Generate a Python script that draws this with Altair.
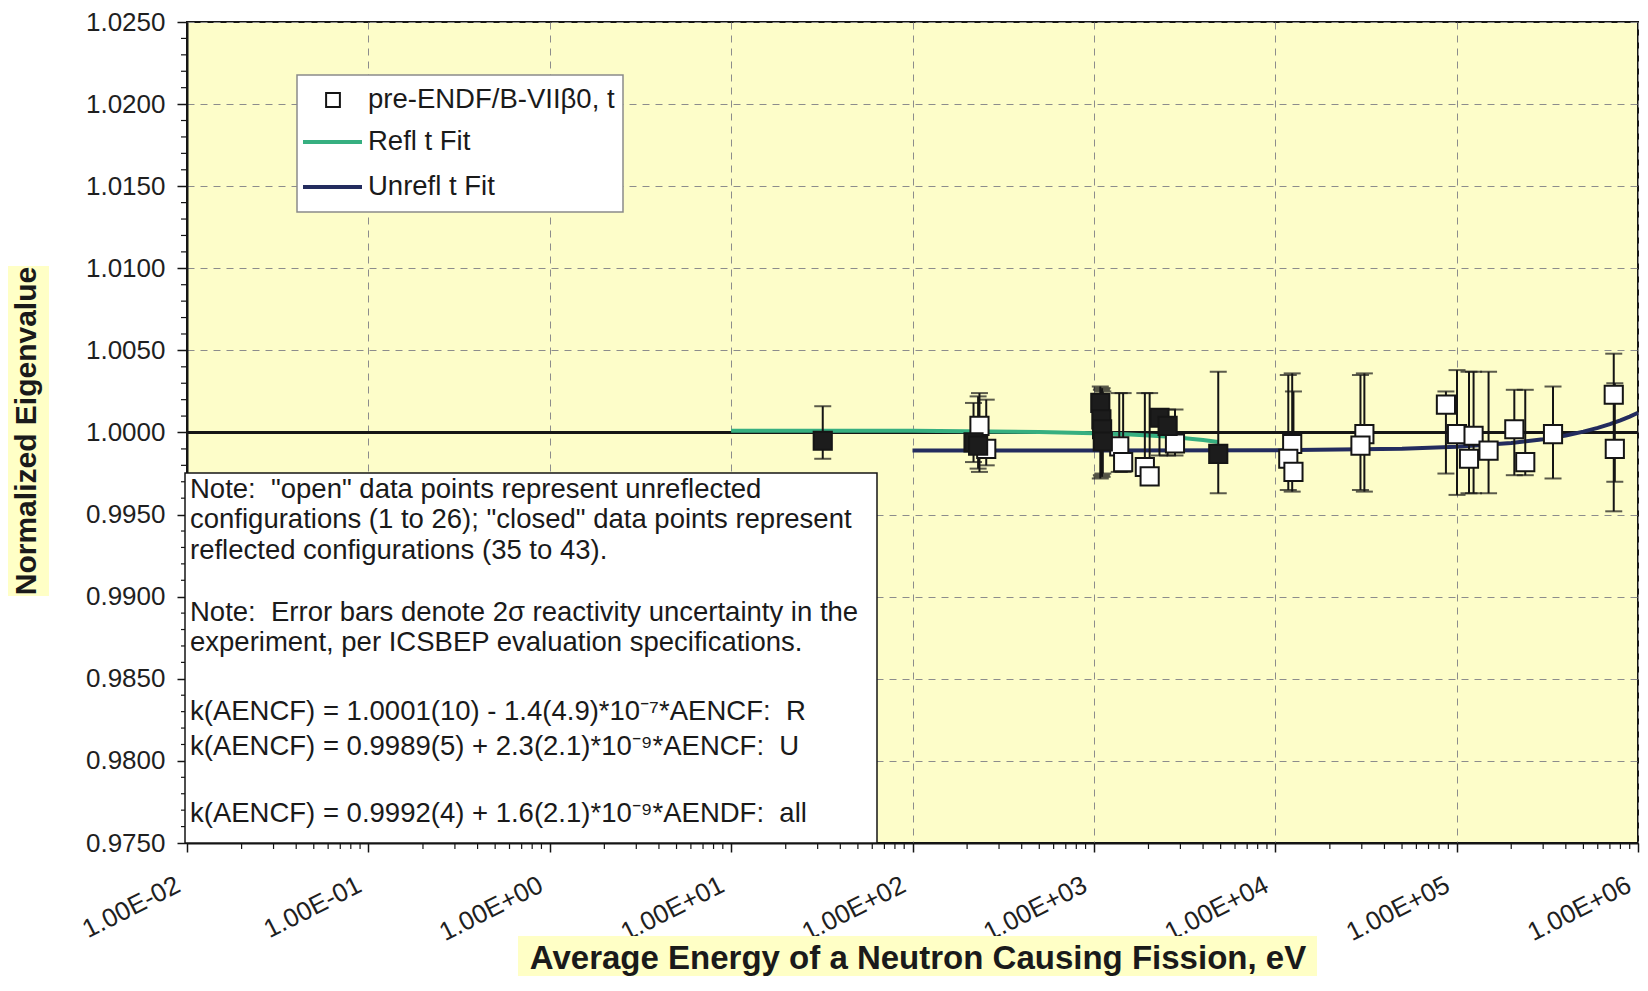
import altair as alt
import pandas as pd

# ---------------- data ----------------
# reflected configurations (closed squares)
refl_E = [32, 217, 230, 1085, 1100, 1110, 1120, 2300, 2550, 4850]
refl_k = [0.9995, 0.9994, 0.9992, 1.0018, 1.0008, 1.0002, 0.99945, 1.0009, 1.0004, 0.9987]
refl_u = [0.0016, 0.0018, 0.0022, 0.0028, 0.0026, 0.0027, 0.0025, 0.0014, 0.0014, 0.0037]

# unreflected configurations (open squares)
unrefl_E = [234, 255, 1380, 1450, 1910, 2030, 2800, 12400, 11800, 12600, 31000, 29500,
            87300, 100500, 117000, 124000, 150000, 208000, 239000, 340000, 735000, 745000]
unrefl_k = [1.0004, 0.9990, 0.99915, 0.9982, 0.9979, 0.99733, 0.99933, 0.9993, 0.9984, 0.9976,
            0.9999, 0.9992, 1.0017, 0.9999, 0.9984, 0.9998, 0.9989, 1.0002, 0.9982, 0.9999,
            1.0023, 0.9990]
unrefl_u = [0.0024, 0.0020, 0.0024, 0.0024, 0.0024, 0.0024, 0.0014, 0.0036, 0.0035, 0.0025,
            0.0036, 0.0035, 0.0025, 0.0038, 0.0037, 0.0037, 0.0037, 0.0026, 0.0026, 0.0028,
            0.0048, 0.0030]

# fit lines
refl_fit_E = [10, 100, 500, 1000, 1500, 2000, 2500, 3000, 3500, 4000, 4850]
refl_fit_k = [1.0001, 1.0001, 1.00003, 0.99996, 0.99989, 0.99982, 0.99975, 0.99968, 0.99961, 0.99954, 0.99942]
unrefl_fit_E = [100, 1000, 10000, 50000, 100000, 200000, 300000, 400000, 500000, 600000,
                700000, 800000, 900000, 1000000]
unrefl_fit_k = [0.9989, 0.9989, 0.99892, 0.99901, 0.99913, 0.99936, 0.99959, 0.99982, 1.00005,
                1.00028, 1.00051, 1.00074, 1.00097, 1.0012]
ref_E = [0.01, 1000000]
ref_k = [1.0, 1.0]

x_decades = [10.0 ** e for e in range(-2, 7)]
y_major = [round(0.975 + 0.005 * i, 4) for i in range(11)]

legend_labels = ["pre-ENDF/B-VIIβ0, t", "Refl t Fit", "Unrefl t Fit"]
note_lines = [
    'Note:\u00a0 "open" data points represent unreflected',
    'configurations (1 to 26); "closed" data points represent',
    'reflected configurations (35 to 43).',
    'Note:\u00a0 Error bars denote 2σ reactivity uncertainty in the',
    'experiment, per ICSBEP evaluation specifications.',
    'k(AENCF) = 1.0001(10) - 1.4(4.9)*10⁻⁷*AENCF:\u00a0 R',
    'k(AENCF) = 0.9989(5) + 2.3(2.1)*10⁻⁹*AENCF:\u00a0 U',
    'k(AENCF) = 0.9992(4) + 1.6(2.1)*10⁻⁹*AENDF:\u00a0 all',
]
x_title = "Average Energy of a Neutron Causing Fission, eV"
y_title = "Normalized Eigenvalue"

# ---------------- tables ----------------
pts = pd.DataFrame({
    "E": refl_E + unrefl_E,
    "k": refl_k + unrefl_k,
    "u": refl_u + unrefl_u,
    "kind": ["R"] * len(refl_E) + ["U"] * len(unrefl_E),
})
pts["lo"] = 1.0 - pts["u"]
pts["hi"] = 1.0 + pts["u"]
refl_fit = pd.DataFrame({"E": refl_fit_E, "k": refl_fit_k})
unrefl_fit = pd.DataFrame({"E": unrefl_fit_E, "k": unrefl_fit_k})
ref_line = pd.DataFrame({"E": ref_E, "k": ref_k})
x_minor = pd.DataFrame({"E": [m * 10.0 ** e for e in range(-2, 6) for m in range(2, 10)]})
y_minor = pd.DataFrame({"k": [round(0.975 + 0.001 * i, 4) for i in range(51) if i % 5 != 0]})
one = pd.DataFrame({"a": [0]})

FONT = "Liberation Sans, Arial, sans-serif"
W, H = 1451, 821
GREEN = "#36AF80"
NAVY = "#232C5E"
INK = "#151515"

xs = alt.Scale(type="log", domain=[0.01, 1000000], nice=False)
ys = alt.Scale(domain=[0.975, 1.025], nice=False, zero=False)

dec = "round(log(datum.value)/LN10)"
x_axis = alt.Axis(
    values=x_decades, title=None,
    labelExpr=f"'1.00E' + ({dec} < 0 ? '-' : '+') + (abs({dec}) < 10 ? '0' : '') + abs({dec})",
    labelAngle=-27, labelAlign="right", labelBaseline="middle",
    labelPadding=31, labelOffset=-9, tickSize=9,
    grid=True, gridDash=[7, 6], gridColor="#8c8c8c", gridWidth=1,
)
y_axis = alt.Axis(
    values=y_major, format=".4f", title=None, tickSize=10, labelPadding=12,
    grid=True, gridDash=[7, 6], gridColor="#8c8c8c", gridWidth=1,
)


def X(f):
    return alt.X(f, type="quantitative", scale=xs, axis=x_axis)


def Y(f):
    return alt.Y(f, type="quantitative", scale=ys, axis=y_axis)


base_ref = alt.Chart(ref_line).mark_line(color=INK, strokeWidth=3).encode(x=X("E"), y=Y("k"))
green = alt.Chart(refl_fit).mark_line(color=GREEN, strokeWidth=4).encode(x=X("E"), y=Y("k"))
navy = alt.Chart(unrefl_fit).mark_line(color=NAVY, strokeWidth=4).encode(x=X("E"), y=Y("k"))
bars = alt.Chart(pts).mark_rule(color=INK, strokeWidth=2).encode(x=X("E"), y=Y("lo"), y2="hi")
cap_lo = alt.Chart(pts).mark_tick(orient="horizontal", size=17, thickness=2, color=INK).encode(
    x=X("E"), y=Y("lo"))
cap_hi = alt.Chart(pts).mark_tick(orient="horizontal", size=17, thickness=2, color=INK).encode(
    x=X("E"), y=Y("hi"))
open_sq = alt.Chart(pts).transform_filter("datum.kind == 'U'").mark_square(
    size=330, filled=True, color="white", stroke=INK, strokeWidth=2, opacity=1).encode(
    x=X("E"), y=Y("k"))
closed_sq = alt.Chart(pts).transform_filter("datum.kind == 'R'").mark_square(
    size=330, filled=True, color="#1c1c1c", stroke=INK, strokeWidth=2, opacity=1).encode(
    x=X("E"), y=Y("k"))

xminor = alt.Chart(x_minor).mark_rule(color=INK, strokeWidth=1.2).encode(
    x=X("E"), y=alt.value(H), y2=alt.value(H + 6))
yminor = alt.Chart(y_minor).mark_rule(color=INK, strokeWidth=1.2).encode(
    y=Y("k"), x=alt.value(-6), x2=alt.value(0))

# legend
leg_box = alt.Chart(one).mark_rect(fill="white", stroke="#8a8a8a", strokeWidth=1.5).encode(
    x=alt.value(110), x2=alt.value(436), y=alt.value(53), y2=alt.value(190))
leg_sq = alt.Chart(one).mark_square(size=190, filled=True, color="white", stroke=INK,
                                    strokeWidth=2, opacity=1).encode(x=alt.value(146), y=alt.value(78))
leg_g = alt.Chart(one).mark_rule(color=GREEN, strokeWidth=4).encode(
    x=alt.value(116), x2=alt.value(175), y=alt.value(120))
leg_n = alt.Chart(one).mark_rule(color=NAVY, strokeWidth=4).encode(
    x=alt.value(116), x2=alt.value(175), y=alt.value(165))
leg_txt = [
    alt.Chart(one).mark_text(align="left", baseline="middle", font=FONT, fontSize=27.5,
                             color="#1a1a1a").encode(x=alt.value(181), y=alt.value(yy),
                                                     text=alt.value(t))
    for t, yy in zip(legend_labels, [78, 120, 165])
]

# note box
note_box = alt.Chart(one).mark_rect(fill="white", stroke=INK, strokeWidth=1.5).encode(
    x=alt.value(-2), x2=alt.value(690), y=alt.value(451), y2=alt.value(H))
note_y = [468, 498, 529, 591, 621, 690, 725, 792]
note_txt = [
    alt.Chart(one).mark_text(align="left", baseline="middle", font=FONT, fontSize=27.5,
                             color="#1a1a1a").encode(x=alt.value(3), y=alt.value(yy),
                                                     text=alt.value(t))
    for t, yy in zip(note_lines, note_y)
]

# axis titles with highlight
HL = "#FFFFC6"
yt_box = alt.Chart(one).mark_rect(fill=HL).encode(
    x=alt.value(-182), x2=alt.value(-138), y=alt.value(244), y2=alt.value(574))
yt = alt.Chart(one).mark_text(angle=270, align="center", baseline="middle", font=FONT,
                              fontSize=30, fontWeight="bold", color="#1a1a1a").encode(
    x=alt.value(-160), y=alt.value(409), text=alt.value(y_title))
xt_box = alt.Chart(one).mark_rect(fill=HL).encode(
    x=alt.value(331), x2=alt.value(1130), y=alt.value(914), y2=alt.value(957))
xt = alt.Chart(one).mark_text(align="center", baseline="middle", font=FONT,
                              fontSize=33, fontWeight="bold", color="#1a1a1a").encode(
    x=alt.value(731), y=alt.value(937), text=alt.value(x_title))

chart = alt.layer(
    base_ref, green, navy, bars, cap_lo, cap_hi, open_sq, closed_sq, xminor, yminor,
    leg_box, leg_sq, leg_g, leg_n, *leg_txt, note_box, *note_txt,
    yt_box, yt, xt_box, xt,
).properties(
    width=W, height=H,
    autosize=alt.AutoSizeParams(type="none"),
    padding={"left": 179, "top": 14, "right": 2, "bottom": 133},
    background="white",
).configure_view(
    fill="#FDFDC9", stroke=INK, strokeWidth=2,
).configure_axis(
    labelFont=FONT, labelFontSize=26, labelColor="#1f1f1f",
    domainColor=INK, domainWidth=2, tickColor=INK, tickWidth=1.5,
)

chart.save("out.html", embed_options={"renderer": "svg", "actions": False})
